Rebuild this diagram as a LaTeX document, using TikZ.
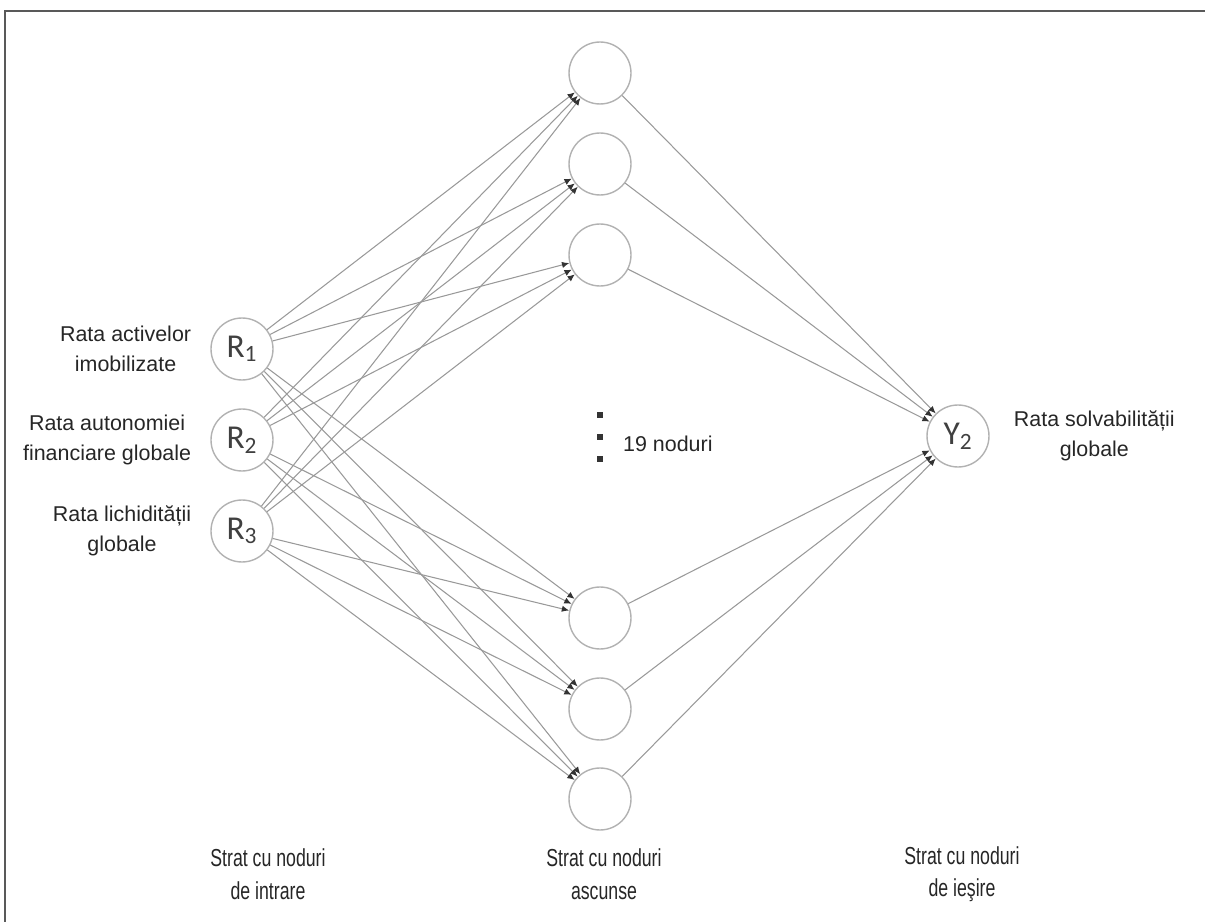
\documentclass[tikz,border=0pt]{standalone}
\usepackage{fontspec}
\setmainfont{Liberation Sans}
\newfontfamily\nodefont{Carlito}
\newfontfamily\narrowfont[FakeStretch=0.72]{Liberation Sans}
\usetikzlibrary{positioning,arrows.meta}
\newcommand{\lblsize}{\fontsize{12.2pt}{17pt}\selectfont}

\begin{document}
\begin{tikzpicture}[x=0.02cm,y=-0.02cm,
    neuron/.style={circle,draw=black!30,line width=0.8pt,minimum size=1.24cm,inner sep=0pt,
      text=black!75,font=\nodefont\fontsize{19pt}{21pt}\selectfont},
    lbl/.style={align=center,text=black!85,font=\lblsize},
    layer/.style={align=center,text=black!85,font=\narrowfont\fontsize{14pt}{18.5pt}\selectfont},
    dotbox/.style={rectangle,fill=black!80,minimum size=0.12cm,inner sep=0pt},
    conn/.style={draw=black!40,line width=0.6pt,-{Latex[length=4.2pt,width=3.6pt,color=black!80]}}]
                \useasboundingbox (0,0) rectangle (1205,922);
                \draw[black!65,line width=1.2pt] (5,922) -- (5,11) -- (1205,11);

                % Input layer
                \node[neuron] (r1) at (242,349) {R\textsubscript{1}};
                \node[neuron] (r2) at (242,440) {R\textsubscript{2}};
                \node[neuron] (r3) at (242,531) {R\textsubscript{3}};
                \node[lbl,left=0.26cm of r1] (l1) {Rata activelor\\imobilizate};
                \node[lbl,left=0.26cm of r2] (l2) {Rata autonomiei\\financiare globale};
                \node[lbl,left=0.26cm of r3] (l3) {Rata lichidității\\globale};

                % Hidden layer
                \node[neuron] (h1) at (600,73) {};
                \node[neuron] (h2) at (600,164) {};
                \node[neuron] (h3) at (600,255) {};
                \node[neuron] (h4) at (600,618) {};
                \node[neuron] (h5) at (600,709) {};
                \node[neuron] (h6) at (600,799) {};
                \node[dotbox] (d1) at (600,415) {};
                \node[dotbox] (d2) at (600,437) {};
                \node[dotbox] (d3) at (600,459) {};
                \node[lbl,anchor=west] (nr) at (617,444) {19 noduri};

                % Output layer
                \node[neuron] (y) at (958,436) {Y\textsubscript{2}};
                \node[lbl,right=0.36cm of y] (ly) {Rata solvabilității\\globale};

                % Connections
                \foreach \i in {1,2,3}
                  \foreach \j in {1,...,6}
                    \draw[conn] (r\i) -- (h\j);
                \foreach \j in {1,...,6}
                  \draw[conn] (h\j) -- (y);

                % Layer names
                \node[layer] (sin) at (268,874) {Strat cu noduri\\de intrare};
                \node[layer] (sas) at (604,874) {Strat cu noduri\\ascunse};
                \node[layer] (sie) at (962,874) {Strat cu noduri\\de ieşire};
            \end{tikzpicture}
\end{document}
